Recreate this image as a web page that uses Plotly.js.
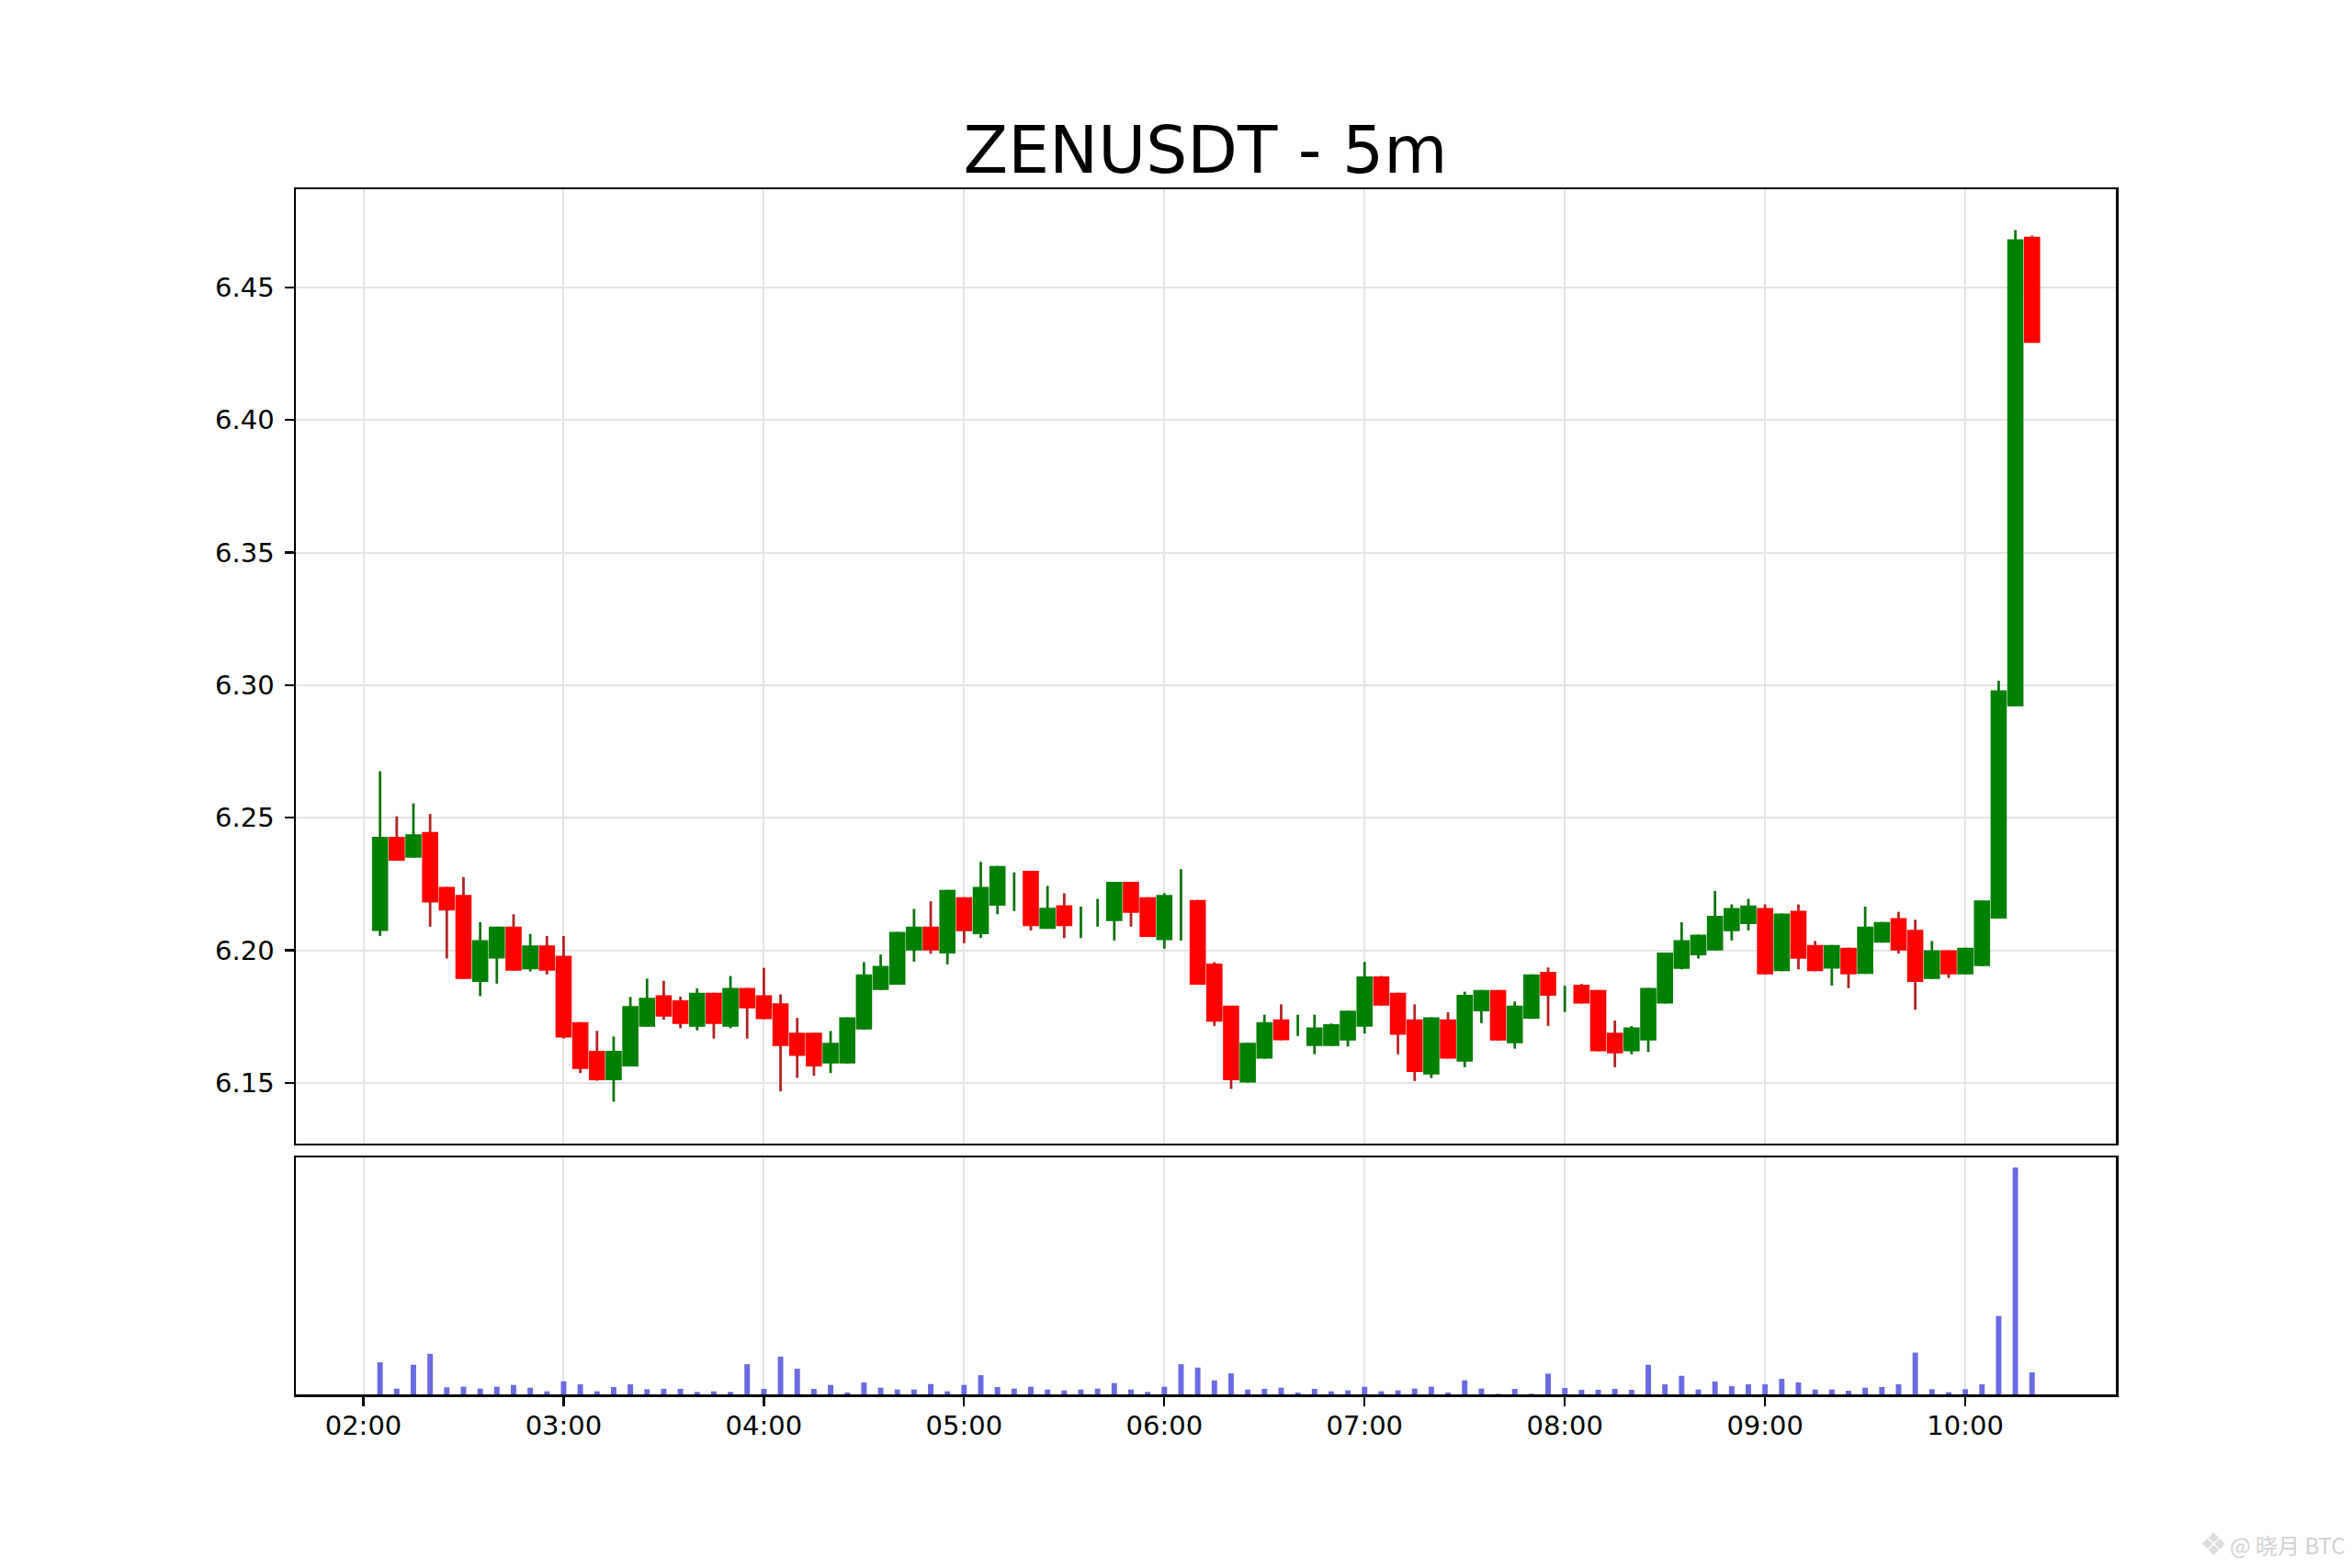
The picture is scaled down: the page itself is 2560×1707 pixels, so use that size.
<!DOCTYPE html>
<html>
<head>
<meta charset="utf-8">
<script src="https://cdn.plot.ly/plotly-3.0.1.min.js"></script>
<style>html,body{margin:0;padding:0;background:#fff}</style>
</head>
<body>
<div id="chart" style="width:2560px;height:1707px"></div>
<script>
const times = ["02:05","02:10","02:15","02:20","02:25","02:30","02:35","02:40","02:45","02:50","02:55","03:00","03:05","03:10","03:15","03:20","03:25","03:30","03:35","03:40","03:45","03:50","03:55","04:00","04:05","04:10","04:15","04:20","04:25","04:30","04:35","04:40","04:45","04:50","04:55","05:00","05:05","05:10","05:15","05:20","05:25","05:30","05:35","05:40","05:45","05:50","05:55","06:00","06:05","06:10","06:15","06:20","06:25","06:30","06:35","06:40","06:45","06:50","06:55","07:00","07:05","07:10","07:15","07:20","07:25","07:30","07:35","07:40","07:45","07:50","07:55","08:00","08:05","08:10","08:15","08:20","08:25","08:30","08:35","08:40","08:45","08:50","08:55","09:00","09:05","09:10","09:15","09:20","09:25","09:30","09:35","09:40","09:45","09:50","09:55","10:00","10:05","10:10","10:15","10:20"];
const opens = [6.2073,6.2428,6.2349,6.2446,6.2239,6.2209,6.1881,6.1969,6.2089,6.1928,6.2018,6.1979,6.1729,6.1621,6.151,6.1562,6.1712,6.183,6.1811,6.1712,6.184,6.1712,6.1858,6.183,6.18,6.1689,6.1689,6.1573,6.1573,6.1701,6.185,6.187,6.1999,6.2089,6.1988,6.22,6.2061,6.2168,6.2215,6.23,6.2081,6.217,6.2100,6.2140,6.211,6.2258,6.22,6.2038,6.2180,6.219,6.195,6.1791,6.1501,6.1591,6.1739,6.1720,6.1639,6.1639,6.166,6.1712,6.1901,6.184,6.1739,6.1532,6.1739,6.158,6.177,6.185,6.1649,6.1742,6.1919,6.1820,6.187,6.185,6.1689,6.1619,6.166,6.1799,6.193,6.1981,6.1999,6.2072,6.2099,6.2159,6.1921,6.2149,6.202,6.1931,6.201,6.1911,6.2029,6.2121,6.2077,6.1892,6.2,6.1909,6.194,6.212,6.292,6.4691];
const closes = [6.2428,6.2338,6.2437,6.218,6.215,6.1892,6.2038,6.2089,6.1923,6.2018,6.1923,6.1671,6.1552,6.151,6.1621,6.179,6.1821,6.175,6.1722,6.184,6.1722,6.1858,6.1781,6.174,6.1639,6.1602,6.1562,6.1651,6.1747,6.1909,6.1941,6.2069,6.2089,6.1999,6.2228,6.2072,6.2239,6.2318,6.2215,6.2091,6.216,6.2091,6.2100,6.2140,6.2258,6.2141,6.205,6.2209,6.2180,6.187,6.1731,6.151,6.1651,6.1729,6.1661,6.1720,6.1709,6.1721,6.1772,6.1901,6.1791,6.1681,6.1541,6.1747,6.1591,6.1832,6.185,6.166,6.1791,6.1909,6.1829,6.1820,6.1799,6.1619,6.1611,6.1709,6.1858,6.1991,6.2038,6.2059,6.213,6.2159,6.2169,6.1909,6.2139,6.1968,6.1921,6.202,6.1909,6.2089,6.2107,6.1999,6.1881,6.2,6.1909,6.201,6.2188,6.298,6.4681,6.4291];
const highs = [6.2675,6.2505,6.2554,6.2514,6.2239,6.2276,6.2106,6.2089,6.2136,6.2062,6.2054,6.2054,6.1729,6.1696,6.1675,6.1824,6.1893,6.1885,6.1825,6.1856,6.184,6.1903,6.1858,6.1934,6.1834,6.1745,6.1689,6.1696,6.1747,6.1955,6.1984,6.2069,6.2156,6.2185,6.2228,6.22,6.2334,6.2318,6.2294,6.23,6.2243,6.2215,6.2165,6.2194,6.2258,6.2258,6.22,6.2215,6.2306,6.219,6.1955,6.1791,6.1651,6.1757,6.1796,6.1757,6.1757,6.1724,6.1772,6.1956,6.1903,6.184,6.1796,6.1747,6.1766,6.1844,6.185,6.185,6.1807,6.1909,6.1935,6.1866,6.1873,6.185,6.1735,6.1714,6.1858,6.1991,6.2106,6.2059,6.2224,6.2173,6.2194,6.2173,6.2139,6.2173,6.2035,6.202,6.201,6.2165,6.2107,6.2145,6.2115,6.2035,6.2,6.201,6.2188,6.3017,6.4716,6.4695];
const lows = [6.2054,6.2338,6.2349,6.2089,6.1969,6.1892,6.1827,6.1874,6.1923,6.192,6.1909,6.1667,6.1537,6.1508,6.1429,6.1562,6.1712,6.1738,6.1706,6.1698,6.1667,6.1706,6.1667,6.174,6.1468,6.1519,6.1527,6.1537,6.1573,6.1701,6.185,6.187,6.1957,6.1987,6.1947,6.2027,6.2047,6.2136,6.2148,6.2075,6.2081,6.2046,6.2046,6.2089,6.2037,6.2089,6.205,6.2006,6.2037,6.187,6.1715,6.1477,6.1501,6.1591,6.1661,6.1677,6.1608,6.1639,6.1637,6.1686,6.1791,6.1608,6.1507,6.1518,6.1591,6.1559,6.1725,6.166,6.1629,6.1742,6.1715,6.1767,6.1799,6.1619,6.1559,6.1608,6.1617,6.1799,6.1928,6.1969,6.1999,6.2037,6.2075,6.1909,6.1921,6.1928,6.1921,6.1867,6.1857,6.1911,6.2029,6.1988,6.1776,6.1892,6.1895,6.1909,6.194,6.212,6.292,6.4291];
const volumes = [105,19,97,133,23,25,19,25,31,22,10,43,33,10,24,33,17,18,18,8,10,8,99,18,124,84,18,31,6,39,22,16,16,34,10,31,63,24,19,25,16,13,16,19,37,16,8,25,99,88,46,69,16,18,22,6,18,10,13,25,10,13,19,25,6,46,19,2,18,2,68,21,15,15,18,15,97,33,61,16,42,27,33,33,51,39,16,16,12,22,24,33,137,17,7,17,33,257,744,72];
const yTicks = [6.15,6.20,6.25,6.30,6.35,6.40,6.45];
const yTickLabels = ["6.15","6.20","6.25","6.30","6.35","6.40","6.45"];
const hourTicks = ["02:00","03:00","04:00","05:00","06:00","07:00","08:00","09:00","10:00"];
const titleText = "ZENUSDT - 5m";
const watermarkIcon = "❖";
const watermarkText = "@ 晓月 BTC";

const day = "2024-01-01 ";
const xs = times.map(t => day + t);
const up = opens.map((o, i) => closes[i] >= o);
const pick = (arr, flag) => arr.filter((_, i) => up[i] === flag);
const solid = opens.map((o, i) => closes[i] !== o);
const pickSolid = arr => arr.filter((_, i) => solid[i]);
const clear = "rgba(0,0,0,0)";

function wicks(flag, color) {
  const lo = pick(lows, flag), hi = pick(highs, flag);
  return {
    type: "bar", xaxis: "x", yaxis: "y", hoverinfo: "skip", showlegend: false,
    x: pick(xs, flag), base: lo, y: hi.map((h, i) => h - lo[i]), width: 46000,
    marker: {color: color, line: {width: 0}}
  };
}
const bodyOpen = pickSolid(opens), bodyClose = pickSolid(closes);
const bodies = {
  type: "candlestick", xaxis: "x", yaxis: "y", hoverinfo: "skip", showlegend: false,
  x: pickSolid(xs), open: bodyOpen, close: bodyClose,
  high: bodyOpen.map((o, i) => Math.max(o, bodyClose[i])),
  low: bodyOpen.map((o, i) => Math.min(o, bodyClose[i])),
  whiskerwidth: 0,
  increasing: {line: {color: clear, width: 1}, fillcolor: "#008000"},
  decreasing: {line: {color: clear, width: 1}, fillcolor: "#ff0000"}
};
const volumeBars = {
  type: "bar", xaxis: "x2", yaxis: "y2", hoverinfo: "skip", showlegend: false,
  x: xs, y: volumes, width: 98000, marker: {color: "#6a6ae2", line: {width: 0}}
};

const axisStyle = {
  showline: true, mirror: true, linecolor: "#000", linewidth: 2.5, zeroline: false,
  gridcolor: "#e4e4e4", gridwidth: 2, tickcolor: "#000", tickwidth: 2.2, ticklen: 10,
  tickfont: {family: "DejaVu Sans", size: 29, color: "#000"}
};
const hourVals = hourTicks.map(t => day + t);
const xRange = [day + "01:39:46", day + "10:45:07"];

const layout = {
  width: 2560, height: 1707, paper_bgcolor: "#fff", plot_bgcolor: "#fff", showlegend: false,
  barmode: "overlay", boxmode: "overlay", boxgap: 0.03, boxgroupgap: 0,
  margin: {l: 321.5, r: 257, t: 206, b: 189, pad: 0},
  title: {text: titleText, font: {family: "DejaVu Sans", size: 71, color: "#000"},
          x: 1312 / 2560, xanchor: "center", y: 1 - 163 / 1707, yanchor: "middle"},
  xaxis: Object.assign({}, axisStyle, {type: "date", anchor: "y", domain: [0, 1], range: xRange,
    showgrid: true, tickmode: "array", tickvals: hourVals, ticktext: hourTicks, ticks: "",
    showticklabels: false, rangeslider: {visible: false}}),
  yaxis: Object.assign({}, axisStyle, {anchor: "x", domain: [0.2081, 1], range: [6.1271, 6.487],
    showgrid: true, tickmode: "array", tickvals: yTicks, ticktext: yTickLabels, ticks: "outside", ticklabelstandoff: 5}),
  xaxis2: Object.assign({}, axisStyle, {type: "date", anchor: "y2", domain: [0, 1], range: xRange,
    showgrid: true, tickmode: "array", tickvals: hourVals, ticktext: hourTicks, ticks: "outside", ticklabelstandoff: -3}),
  yaxis2: Object.assign({}, axisStyle, {anchor: "x2", domain: [0, 0.1966], range: [0, 777],
    showgrid: false, showticklabels: false, ticks: ""}),
  annotations: [
    {xref: "paper", yref: "paper", x: 2555 / 1981.5 - 321.5 / 1981.5, y: -(1681 - 1518) / 1312, xanchor: "right", yanchor: "middle",
     showarrow: false, text: watermarkText, font: {family: "Noto Sans CJK SC", size: 24, color: "#d2d2d2"}},
    {xref: "paper", yref: "paper", x: 2426 / 1981.5 - 321.5 / 1981.5, y: -(1681 - 1518) / 1312, xanchor: "right", yanchor: "middle",
     showarrow: false, text: watermarkIcon, font: {family: "DejaVu Sans", size: 34, color: "#dcdcdc"}}
  ]
};

Plotly.newPlot("chart", [wicks(true, "#0e730e"), wicks(false, "#b22222"), bodies, volumeBars], layout, {staticPlot: true, displayModeBar: false});
</script>
</body>
</html>
